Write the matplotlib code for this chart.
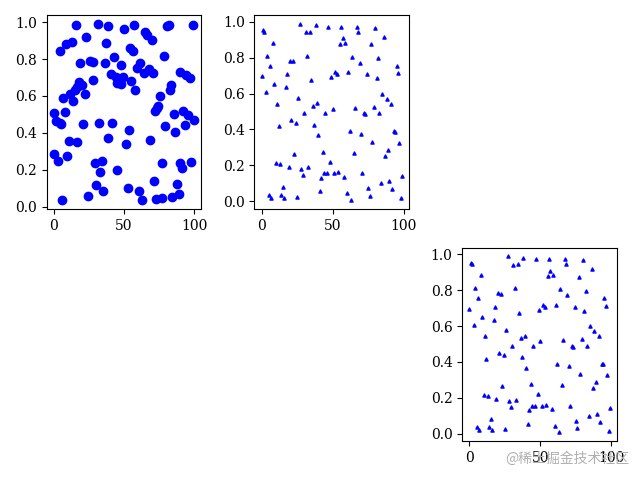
import numpy as np
import matplotlib.pyplot as plt

plt.rcParams['font.family'] = ['DejaVu Serif']

# datos del primer panel (x e y aleatorios)
x1 = [15.6, 31.4, 38.4, 50.2, 57.2, 80.9, 81.9, 98.8, 23.3, 8.8,
      13.3, 4.2, 37.2, 64.7, 66.7, 69.8, 54.0, 56.3, 78.8, 43.0,
      18.8, 25.6, 27.9, 36.5, 47.7, 61.4, 59.3, 64.0, 67.7, 70.5,
      40.5, 44.2, 49.3, 46.5, 48.1, 44.9, 54.7, 58.1, 27.9, 18.1,
      20.2, 16.3, 15.1, 22.3, 11.6, 7.0, 14.0, 90.0, 94.4, 97.0,
      83.7, 82.6, 75.6, 74.4, 73.3, 72.1, 0.5, 7.9, 1.9, 4.2,
      5.3, 20.9, 32.1, 41.4, 85.6, 92.3, 95.3, 100.0, 93.5, 79.5,
      86.5, 53.5, 39.0, 68.4, 11.2, 16.7, 51.6, 0.0, 2.8, 9.8,
      29.1, 34.2, 33.3, 45.3, 76.7, 90.0, 91.2, 97.7, 30.2, 34.9,
      71.6, 87.9, 52.6, 60.7, 24.4, 62.8, 6.3, 72.8, 77.2, 84.2, 88.8]
y1 = [0.984, 0.991, 0.979, 0.963, 0.984, 0.980, 0.984, 0.984, 0.921, 0.880,
      0.893, 0.846, 0.888, 0.945, 0.930, 0.905, 0.859, 0.845, 0.818, 0.811,
      0.780, 0.789, 0.784, 0.777, 0.766, 0.780, 0.750, 0.727, 0.745, 0.727,
      0.718, 0.700, 0.700, 0.686, 0.664, 0.670, 0.680, 0.632, 0.686, 0.673,
      0.659, 0.648, 0.630, 0.609, 0.611, 0.588, 0.570, 0.732, 0.713, 0.698,
      0.657, 0.632, 0.598, 0.545, 0.534, 0.518, 0.507, 0.511, 0.463, 0.454,
      0.450, 0.446, 0.454, 0.454, 0.502, 0.520, 0.495, 0.468, 0.445, 0.439,
      0.405, 0.413, 0.373, 0.363, 0.357, 0.352, 0.338, 0.286, 0.246, 0.273,
      0.234, 0.245, 0.186, 0.198, 0.234, 0.234, 0.207, 0.243, 0.118, 0.084,
      0.139, 0.123, 0.100, 0.082, 0.057, 0.036, 0.036, 0.041, 0.048, 0.052, 0.066]

# datos de los otros dos paneles (x = 0..99)
x2 = np.arange(100)
y2 = [0.696, 0.954, 0.945, 0.607, 0.812, 0.035, 0.755, 0.018, 0.884, 0.651,
      0.214, 0.544, 0.419, 0.210, 0.037, 0.081, 0.018, 0.635, 0.707, 0.192,
      0.784, 0.452, 0.779, 0.266, 0.437, 0.026, 0.576, 0.989, 0.181, 0.148,
      0.491, 0.941, 0.812, 0.188, 0.946, 0.675, 0.531, 0.426, 0.980, 0.546,
      0.369, 0.055, 0.131, 0.277, 0.155, 0.491, 0.155, 0.972, 0.221, 0.690,
      0.515, 0.155, 0.718, 0.708, 0.161, 0.878, 0.972, 0.908, 0.137, 0.884,
      0.044, 0.720, 0.391, 0.007, 0.806, 0.269, 0.520, 0.972, 0.945, 0.773,
      0.375, 0.157, 0.491, 0.485, 0.707, 0.072, 0.031, 0.875, 0.332, 0.526,
      0.967, 0.686, 0.797, 0.491, 0.100, 0.598, 0.917, 0.253, 0.570, 0.288,
      0.111, 0.542, 0.066, 0.391, 0.386, 0.756, 0.714, 0.325, 0.017, 0.142]

fig = plt.figure(figsize=(6.4, 4.8), dpi=100)

ax1 = plt.subplot(231)
ax1.scatter(x1, y1, c='b')

ax2 = plt.subplot(232)
ax2.scatter(x2, y2, c='b', marker='^', s=5)

ax3 = plt.subplot(236)
ax3.scatter(x2, y2, c='b', marker='^', s=5)

plt.tight_layout()

# marca de agua
fig.text(0.79, 0.035, '@稀土掘金技术社区', color='#b0b0b0', fontsize=10,
         family=['Noto Sans CJK SC', 'DejaVu Sans'])

plt.savefig('out.png')
